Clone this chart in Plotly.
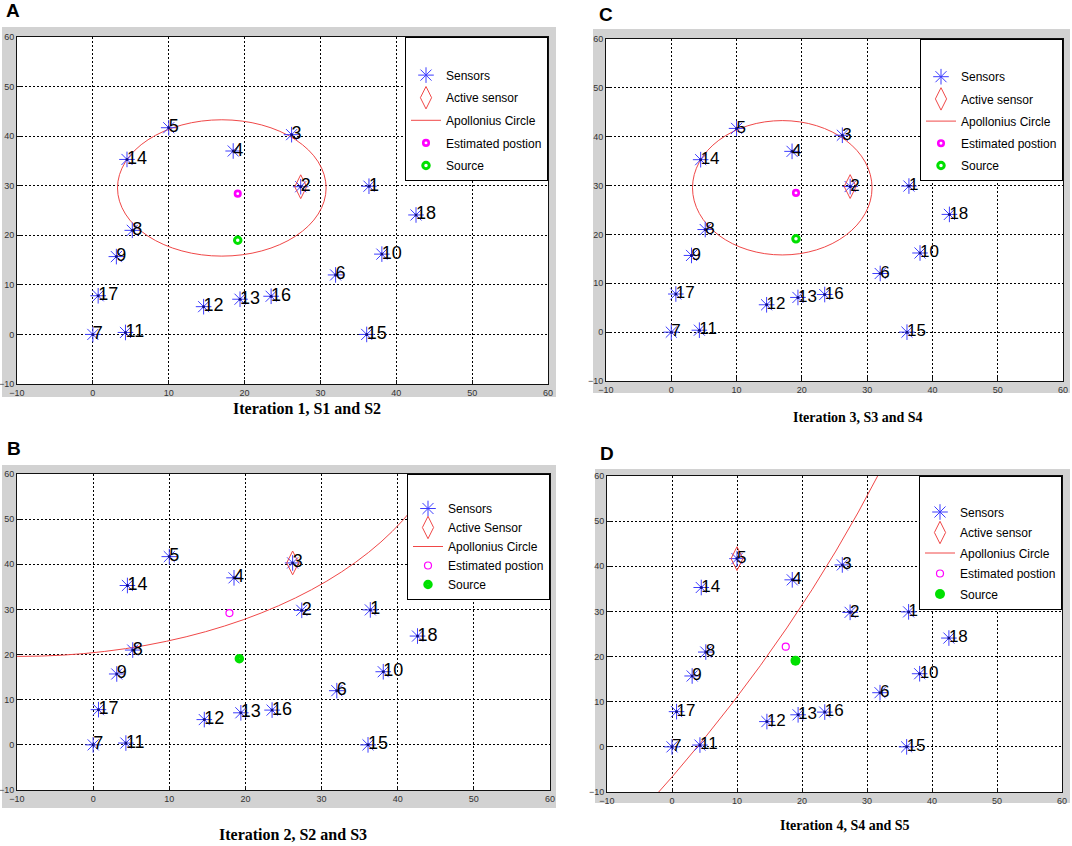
import plotly.graph_objects as go

W, H = 1072, 846

# ---------------- data ----------------
sensor_ids = [str(i) for i in range(1, 19)]
sensor_x = [36.4, 27.4, 26.2, 18.5, 10.0, 32.0, 0.0, 5.2, 3.1, 38.1, 4.3, 14.6, 19.4, 4.5, 36.1, 23.5, 0.7, 42.6]
sensor_y = [29.9, 29.8, 40.3, 37.0, 41.7, 12.0, 0.0, 21.0, 15.7, 16.2, 0.4, 5.6, 7.1, 35.3, 0.0, 7.7, 7.8, 24.1]

panels = ["A", "B", "C", "D"]
titles = ["Iteration 1, S1 and S2", "Iteration 2, S2 and S3",
          "Iteration 3, S3 and S4", "Iteration 4, S4 and S5"]
active_labels = ["Active sensor", "Active Sensor", "Active sensor", "Active sensor"]
active_sensor = [2, 3, 2, 5]
est_x = [19.1, 17.9, 19.1, 17.5]
est_y = [28.4, 29.2, 28.5, 22.2]
source_x = [19.1, 19.2, 19.1, 19.0]
source_y = [19.0, 19.1, 19.1, 19.1]
circle_cx = [17.0, -9.6, 17.0, -325.4]
circle_cy = [29.55, 76.6, 29.55, 188.6]
circle_r = [13.75, 57.0, 13.75, 379.5]

# ---------------- styling / layout ----------------
NARROW = "Liberation Sans Narrow, Arial Narrow, Liberation Sans, Arial, sans-serif"
BLUE = "#3c3cff"
RED = "#f04848"
MAG = "#ff00ff"
GREEN = "#00e000"
GREY = "#d2d2d2"

plot_box = {"A": (17, 548, 37, 384), "B": (17, 550, 474, 790),
            "C": (606, 1063, 39, 381), "D": (607, 1062, 476, 792)}
grey_box = {"A": (2, 556, 27, 397), "B": (2, 556, 465, 808),
            "C": (593, 1070, 29, 393), "D": (595, 1070, 469, 803)}
title_pos = {"A": (307, 408, 16), "B": (293, 834, 16), "C": (858, 418, 14), "D": (845, 825, 14)}
letter_pos = {"A": (4, 11), "B": (5, 448), "C": (597, 14), "D": (598, 453)}
label_size = {"A": 18, "B": 18, "C": 17, "D": 17}
legend_gap = {"A": 3.6, "B": 0, "C": 3.2, "D": 1.5}
est_style = {"A": (5.5, 2.6), "B": (7, 1.2), "C": (5.5, 2.6), "D": (7, 1.2)}
src_style = {"A": ("circle-open", 6.5, 3), "B": ("circle-open", 5, 4.5),
             "C": ("circle-open", 6.5, 3), "D": ("circle", 10, 0)}


def px2x(px):
    return px / W


def py2y(py):
    return 1 - py / H


fig = go.Figure()
shapes = []
annotations = []
layout = {}

for i, p in enumerate(panels):
    sfx = "" if i == 0 else str(i + 1)
    xa, ya = "x" + sfx, "y" + sfx
    lg = "legend" + sfx
    x0, x1, y0, y1 = plot_box[p]

    axis_common = dict(
        range=[-10, 60], tickmode="linear", tick0=-10, dtick=10, automargin=False,
        showgrid=True, gridcolor="#000000", griddash="2px,2px", gridwidth=1,
        zeroline=False, showline=True, linecolor="#111111", linewidth=1, mirror=True,
        ticks="inside", ticklen=4, tickcolor="#111111",
        tickfont=dict(family=NARROW, size=9, color="#333333"),
    )
    layout["xaxis" + sfx] = dict(domain=[px2x(x0), px2x(x1)], anchor=ya, **axis_common)
    layout["yaxis" + sfx] = dict(domain=[py2y(y1), py2y(y0)], anchor=xa, **axis_common)
    layout[lg] = dict(
        x=px2x(x1), xanchor="right", y=py2y(y0), yanchor="top",
        bgcolor="white", bordercolor="black", borderwidth=1,
        font=dict(family=NARROW, size=12, color="black"),
        traceorder="grouped", tracegroupgap=legend_gap[p], itemsizing="trace",
    )

    gx0, gx1, gy0, gy1 = grey_box[p]
    shapes.append(dict(type="rect", xref="paper", yref="paper",
                       x0=px2x(gx0), x1=px2x(gx1), y0=py2y(gy1), y1=py2y(gy0),
                       fillcolor=GREY, line=dict(width=0), layer="below"))
    shapes.append(dict(type="rect", xref="paper", yref="paper",
                       x0=px2x(x0), x1=px2x(x1), y0=py2y(y1), y1=py2y(y0),
                       fillcolor="white", line=dict(width=0), layer="below"))
    # Apollonius circle
    cx, cy, r = circle_cx[i], circle_cy[i], circle_r[i]
    shapes.append(dict(type="circle", xref=xa, yref=ya,
                       x0=cx - r, x1=cx + r, y0=cy - r, y1=cy + r,
                       line=dict(color=RED, width=1), layer="between"))

    tx, ty, ts = title_pos[p]
    annotations.append(dict(text="<b>" + titles[i] + "</b>", x=px2x(tx), y=py2y(ty),
                            xref="paper", yref="paper", showarrow=False,
                            xanchor="center", yanchor="middle",
                            font=dict(family="Liberation Serif, Times New Roman, serif", size=ts, color="black")))
    lx, ly = letter_pos[p]
    annotations.append(dict(text="<b>" + p + "</b>", x=px2x(lx), y=py2y(ly),
                            xref="paper", yref="paper", showarrow=False,
                            xanchor="left", yanchor="middle",
                            font=dict(family="Liberation Sans, Arial, sans-serif", size=19, color="black")))

    common = dict(xaxis=xa, yaxis=ya, legend=lg)
    # blank legend row
    fig.add_trace(go.Scatter(x=[None], y=[None], mode="markers", name=" ",
                             marker=dict(color="rgba(0,0,0,0)", size=1),
                             legendgroup=p + "0", **common))
    # sensors
    fig.add_trace(go.Scatter(x=sensor_x, y=sensor_y, mode="markers", name="Sensors",
                             marker=dict(symbol="asterisk-open", size=13, color=BLUE,
                                         line=dict(color=BLUE, width=1)),
                             legendgroup=p + "1", **common))
    fig.add_trace(go.Scatter(x=sensor_x, y=sensor_y, mode="markers", showlegend=False,
                             marker=dict(symbol="circle", size=3, color="#101080"),
                             hoverinfo="skip", **common))
    # active sensor
    k = active_sensor[i] - 1
    fig.add_trace(go.Scatter(x=[sensor_x[k]], y=[sensor_y[k]], mode="markers",
                             name=active_labels[i],
                             marker=dict(symbol="diamond-tall-open", size=17, color=RED,
                                         line=dict(color=RED, width=1)),
                             legendgroup=p + "2", **common))
    # circle legend entry
    fig.add_trace(go.Scatter(x=[None], y=[None], mode="lines", name="Apollonius Circle",
                             line=dict(color=RED, width=1),
                             legendgroup=p + "3", **common))
    # estimated position
    es, ew = est_style[p]
    fig.add_trace(go.Scatter(x=[est_x[i]], y=[est_y[i]], mode="markers",
                             name="Estimated postion",
                             marker=dict(symbol="circle-open", size=es, color=MAG,
                                         line=dict(color=MAG, width=ew)),
                             legendgroup=p + "4", **common))
    # source
    sym, ss, sw = src_style[p]
    fig.add_trace(go.Scatter(x=[source_x[i]], y=[source_y[i]], mode="markers",
                             name="Source",
                             marker=dict(symbol=sym, size=ss, color=GREEN,
                                         line=dict(color=GREEN, width=sw)),
                             legendgroup=p + "5", **common))
    # sensor number labels
    fig.add_trace(go.Scatter(x=sensor_x, y=sensor_y, mode="text", text=sensor_ids,
                             textposition="middle right", showlegend=False,
                             textfont=dict(family=NARROW, size=label_size[p], color="black"),
                             hoverinfo="skip", **common))

fig.update_layout(width=W, height=H, margin=dict(l=0, r=0, t=0, b=0),
                  paper_bgcolor="white", plot_bgcolor="white",
                  shapes=shapes, annotations=annotations, **layout)

fig.write_html("out.html", config={"displayModeBar": False},
               post_script="document.body.style.margin='0';document.body.style.overflow='hidden';")
